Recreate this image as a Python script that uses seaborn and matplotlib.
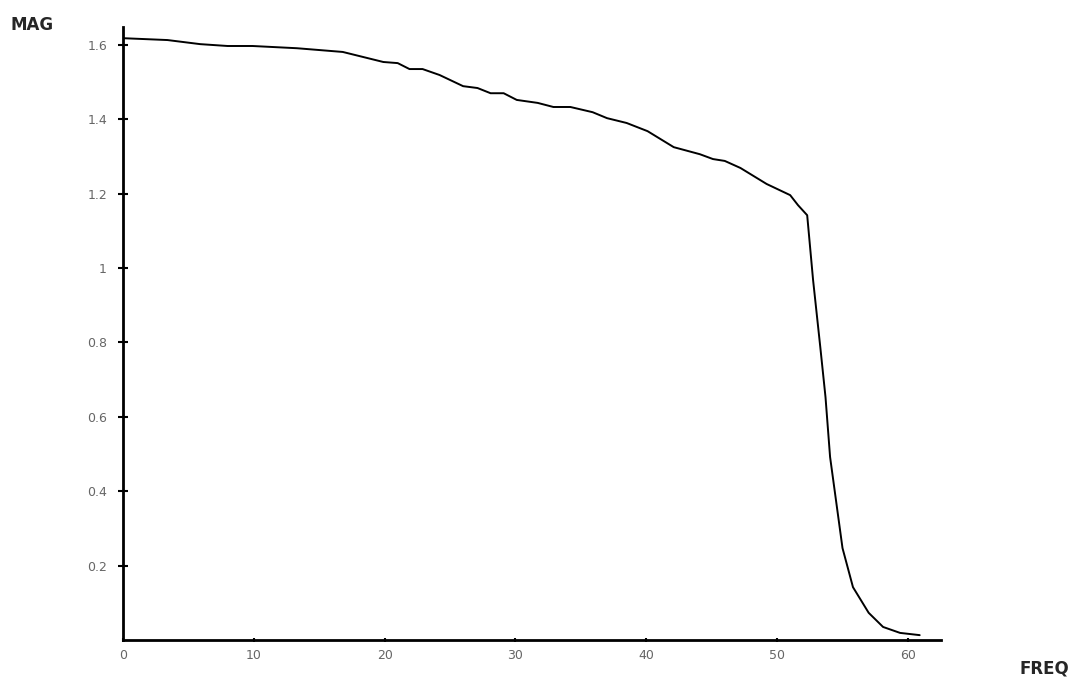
import seaborn as sns
import pandas as pd
import matplotlib.pyplot as plt

# values
freq = [0, 3.4, 5.9, 8.0, 9.9, 13.3, 16.8, 19.9, 21.0, 21.9, 22.9, 24.2,
        26.0, 27.1, 28.1, 29.1, 30.1, 31.7, 32.9, 34.2, 35.9, 37.0, 38.5,
        40.1, 42.1, 44.1, 45.1, 46.0, 47.2, 49.2, 51.0, 51.6, 52.3, 52.75,
        53.3, 53.7, 54.05, 55.0, 55.8, 57.0, 58.1, 59.4, 60.9]
mag = [1.618, 1.613, 1.602, 1.597, 1.597, 1.591, 1.581, 1.554, 1.551, 1.535,
       1.535, 1.519, 1.489, 1.484, 1.470, 1.470, 1.452, 1.444, 1.433, 1.433,
       1.419, 1.403, 1.390, 1.368, 1.325, 1.306, 1.293, 1.288, 1.269, 1.226,
       1.196, 1.169, 1.142, 0.968, 0.788, 0.653, 0.492, 0.247, 0.142, 0.073,
       0.035, 0.019, 0.013]

x_ticks = [0, 10, 20, 30, 40, 50, 60]
y_ticks = [0.2, 0.4, 0.6, 0.8, 1.0, 1.2, 1.4, 1.6]
y_labels = ["0.2", "0.4", "0.6", "0.8", "1", "1.2", "1.4", "1.6"]

df = pd.DataFrame({"FREQ": freq, "MAG": mag})

sns.set_style("ticks")
fig = plt.figure(figsize=(10.75, 6.86), dpi=100)
ax = fig.add_axes([0.1144, 0.0671, 0.7606, 0.8935])

sns.lineplot(data=df, x="FREQ", y="MAG", color="black", linewidth=1.4,
             ax=ax, sort=False)

ax.set_xlim(0, 62.5)
ax.set_ylim(0, 1.648)
ax.set_xticks(x_ticks)
ax.set_yticks(y_ticks)
ax.set_yticklabels(y_labels)

for side in ["top", "right"]:
    ax.spines[side].set_visible(False)
for side in ["left", "bottom"]:
    ax.spines[side].set_linewidth(2)
    ax.spines[side].set_color("black")

ax.tick_params(axis="both", direction="inout", width=1.5,
               colors="black", labelcolor="#666666", labelsize=9,
               bottom=True, left=True)
ax.tick_params(axis="y", length=7, pad=8)
ax.tick_params(axis="x", length=3, pad=5)

ax.set_xlabel("")
ax.set_ylabel("")
fig.text(0.01, 0.963, "MAG", fontsize=12, fontweight="bold", ha="left", va="center")
fig.text(0.995, 0.025, "FREQ", fontsize=12, fontweight="bold", ha="right", va="center")

fig.savefig("out.png", dpi=100, facecolor="white")
